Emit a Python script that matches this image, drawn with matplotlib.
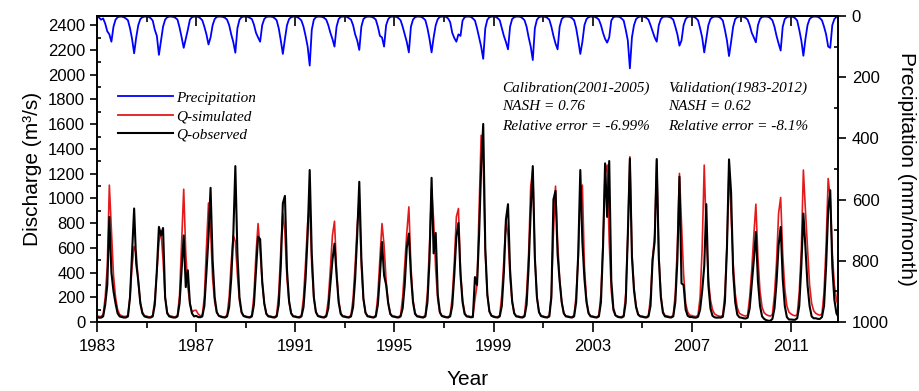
import matplotlib
matplotlib.use('Agg')
import matplotlib.pyplot as plt
import numpy as np
from matplotlib.lines import Line2D
from matplotlib.font_manager import FontProperties

# monthly values, one row per year (Jan..Dec), 1983-2012
years = list(range(1983, 2013))

q_obs = [
    [40, 35, 35, 45, 140, 300, 850, 400, 250, 150, 70, 45],      # 1983
    [40, 36, 36, 45, 200, 555, 918, 473, 336, 150, 70, 45],      # 1984
    [40, 36, 36, 45, 140, 418, 769, 700, 760, 200, 70, 45],      # 1985
    [40, 36, 36, 45, 150, 420, 700, 282, 418, 150, 70, 45],      # 1986
    [50, 40, 38, 45, 130, 400, 688, 1085, 500, 200, 80, 50],     # 1987
    [42, 38, 36, 45, 120, 350, 700, 1261, 550, 200, 80, 48],     # 1988
    [42, 38, 36, 45, 140, 420, 690, 670, 330, 150, 65, 45],      # 1989
    [42, 38, 36, 45, 140, 450, 960, 1020, 420, 170, 70, 45],     # 1990
    [42, 38, 36, 45, 120, 350, 700, 1229, 550, 200, 80, 48],     # 1991
    [42, 38, 36, 45, 110, 300, 500, 634, 380, 160, 65, 45],      # 1992
    [42, 38, 36, 45, 120, 350, 700, 1134, 520, 190, 75, 46],     # 1993
    [42, 38, 36, 45, 140, 380, 647, 377, 300, 150, 65, 45],      # 1994
    [42, 38, 36, 45, 110, 300, 600, 715, 380, 160, 65, 45],      # 1995
    [42, 38, 36, 45, 160, 500, 1166, 555, 720, 220, 80, 48],     # 1996
    [42, 38, 36, 45, 130, 380, 688, 801, 380, 160, 65, 45],      # 1997
    [42, 38, 40, 363, 300, 700, 1250, 1602, 600, 220, 85, 50],   # 1998
    [42, 38, 36, 45, 130, 400, 830, 953, 420, 170, 70, 45],      # 1999
    [42, 38, 36, 45, 140, 450, 900, 1261, 520, 200, 80, 48],     # 2000
    [42, 38, 36, 45, 200, 991, 1061, 550, 330, 160, 70, 45],     # 2001
    [42, 38, 36, 45, 160, 550, 1229, 650, 350, 160, 70, 45],     # 2002
    [42, 38, 36, 45, 160, 600, 1283, 850, 1302, 336, 110, 55],   # 2003
    [42, 38, 36, 45, 160, 700, 1323, 525, 255, 120, 60, 45],     # 2004
    [42, 38, 36, 45, 130, 500, 650, 1318, 520, 200, 75, 45],     # 2005
    [42, 38, 36, 45, 160, 500, 1175, 312, 300, 100, 50, 40],     # 2006
    [40, 36, 35, 42, 100, 250, 450, 953, 300, 110, 50, 38],      # 2007
    [35, 36, 35, 42, 160, 600, 1315, 1048, 400, 160, 60, 38],    # 2008
    [35, 30, 28, 35, 110, 300, 500, 728, 330, 130, 45, 25],      # 2009
    [15, 10, 10, 25, 110, 320, 620, 769, 350, 130, 40, 20],      # 2010
    [20, 18, 18, 30, 130, 450, 877, 600, 300, 130, 45, 30],      # 2011
    [30, 25, 25, 40, 130, 450, 900, 1066, 450, 180, 70, 40],     # 2012
]

q_sim = [
    [50, 45, 45, 60, 200, 450, 1107, 750, 380, 200, 100, 60],
    [50, 45, 45, 55, 200, 450, 610, 560, 320, 160, 80, 50],
    [48, 42, 42, 55, 180, 400, 650, 740, 500, 200, 80, 50],
    [48, 42, 42, 55, 220, 650, 1074, 555, 282, 150, 80, 93],
    [95, 65, 50, 55, 200, 600, 963, 750, 350, 160, 75, 50],
    [48, 42, 42, 55, 200, 480, 700, 650, 380, 170, 75, 50],
    [48, 42, 42, 55, 220, 550, 796, 580, 320, 150, 70, 48],
    [48, 42, 42, 55, 230, 580, 877, 720, 350, 160, 72, 48],
    [48, 42, 42, 55, 200, 480, 800, 945, 450, 190, 80, 50],
    [48, 42, 42, 55, 180, 430, 700, 815, 420, 180, 75, 48],
    [48, 42, 42, 55, 190, 460, 780, 1000, 450, 180, 75, 48],
    [48, 42, 42, 55, 220, 520, 796, 620, 330, 160, 70, 48],
    [48, 42, 42, 55, 200, 460, 720, 931, 450, 180, 75, 48],
    [48, 42, 42, 55, 240, 620, 1080, 820, 420, 180, 75, 48],
    [48, 42, 42, 55, 200, 480, 850, 918, 420, 180, 75, 48],
    [48, 42, 50, 180, 300, 900, 1510, 1300, 550, 220, 85, 52],
    [48, 42, 42, 55, 220, 500, 818, 700, 360, 160, 72, 48],
    [48, 42, 42, 55, 230, 560, 1100, 1229, 520, 200, 80, 50],
    [48, 42, 42, 55, 230, 720, 1099, 650, 350, 160, 72, 48],
    [48, 42, 42, 55, 220, 520, 1050, 1107, 450, 180, 75, 48],
    [48, 42, 42, 55, 230, 650, 1200, 1270, 650, 250, 90, 52],
    [48, 42, 42, 55, 230, 700, 1337, 560, 280, 130, 65, 48],
    [48, 42, 42, 55, 200, 520, 700, 1310, 550, 220, 85, 52],
    [50, 44, 42, 55, 230, 620, 1202, 800, 390, 150, 80, 55],
    [52, 46, 44, 55, 200, 600, 1269, 700, 350, 180, 100, 65],
    [55, 48, 45, 55, 230, 620, 1240, 850, 480, 230, 115, 70],
    [60, 52, 48, 55, 200, 420, 700, 953, 520, 250, 120, 75],
    [60, 52, 48, 60, 220, 480, 880, 1007, 550, 270, 130, 80],
    [65, 55, 50, 60, 240, 580, 1229, 900, 600, 300, 150, 90],
    [70, 60, 55, 65, 240, 620, 1161, 1000, 560, 300, 180, 120],
]

precip = [
    [3, 5, 12, 8, 25, 50, 60, 84, 35, 12, 4, 2],
    [2, 4, 8, 14, 40, 75, 122, 70, 30, 10, 4, 2],
    [2, 3, 7, 15, 45, 65, 127, 80, 35, 12, 4, 2],
    [2, 3, 6, 12, 38, 70, 104, 75, 45, 12, 4, 2],
    [2, 3, 7, 14, 35, 60, 93, 70, 30, 10, 3, 2],
    [2, 3, 6, 12, 30, 60, 85, 120, 40, 12, 4, 2],
    [2, 3, 6, 10, 28, 55, 70, 84, 30, 10, 3, 2],
    [2, 3, 7, 14, 40, 80, 124, 75, 30, 10, 4, 2],
    [2, 4, 8, 15, 35, 65, 100, 162, 45, 12, 4, 2],
    [2, 3, 6, 12, 30, 55, 75, 100, 35, 10, 3, 2],
    [2, 3, 7, 12, 30, 60, 80, 111, 35, 10, 4, 2],
    [2, 3, 6, 12, 35, 65, 70, 100, 30, 10, 3, 2],
    [2, 3, 7, 14, 35, 60, 85, 119, 35, 12, 4, 2],
    [2, 3, 7, 14, 40, 75, 119, 70, 30, 10, 3, 2],
    [2, 3, 8, 20, 55, 72, 84, 60, 65, 15, 4, 2],
    [2, 3, 8, 15, 40, 70, 100, 140, 40, 12, 4, 2],
    [2, 3, 7, 14, 40, 65, 85, 109, 35, 10, 4, 2],
    [2, 3, 7, 14, 35, 70, 100, 144, 40, 12, 4, 2],
    [2, 3, 6, 12, 35, 65, 90, 109, 35, 10, 3, 2],
    [2, 3, 7, 14, 40, 80, 124, 85, 30, 10, 4, 2],
    [2, 3, 6, 12, 30, 55, 75, 87, 70, 15, 4, 2],
    [2, 3, 8, 15, 45, 80, 171, 70, 30, 10, 4, 2],
    [2, 3, 6, 12, 30, 50, 70, 84, 30, 10, 3, 2],
    [2, 3, 6, 12, 35, 60, 97, 80, 30, 10, 3, 2],
    [2, 3, 7, 14, 40, 70, 119, 75, 30, 10, 4, 2],
    [2, 3, 7, 15, 45, 80, 131, 85, 35, 10, 4, 2],
    [2, 3, 6, 12, 30, 55, 70, 86, 30, 10, 3, 2],
    [2, 3, 7, 14, 35, 65, 90, 113, 35, 10, 4, 2],
    [2, 3, 7, 15, 45, 80, 130, 75, 30, 10, 4, 2],
    [2, 3, 7, 14, 35, 60, 100, 104, 30, 10, 3, 2],
]

plt.rcParams['font.family'] = ['Liberation Sans', 'DejaVu Sans']

obs = np.array(q_obs, dtype=float).ravel()
sim = np.array(q_sim, dtype=float).ravel()
pr = np.array(precip, dtype=float).ravel()
t = years[0] + np.arange(len(obs)) / 12.0

fig = plt.figure(figsize=(9.19, 3.91), dpi=100)
ax = fig.add_axes([0.1055, 0.1765, 0.8069, 0.7826])

ax.plot(t, sim, color='#e31a1c', lw=1.2)
ax.plot(t, obs, color='black', lw=1.5)
ax.set_xlim(1983, 2012 + 11 / 12)
ax.set_ylim(0, 2475)
ax.set_xticks(np.arange(1983, 2013, 4))
ax.set_xticks(np.arange(1985, 2013, 4), minor=True)
ax.set_yticks(np.arange(0, 2401, 200))
ax.set_yticks(np.arange(100, 2475, 200), minor=True)
ax.tick_params(axis='x', which='major', direction='out', length=7, width=1.2, labelsize=12, pad=5)
ax.tick_params(axis='x', which='minor', direction='out', length=4, width=1.2)
ax.tick_params(axis='y', which='major', direction='out', length=5, width=1.2, labelsize=12)
ax.tick_params(axis='y', which='minor', direction='in', length=3, width=1.2)
ax.set_xlabel('Year', fontsize=15, labelpad=12)
ax.set_ylabel('Discharge (m³/s)', fontsize=15, labelpad=4)

top = ax.secondary_xaxis('top')
top.set_xticks(np.arange(1983, 2013, 4))
top.set_xticks(np.arange(1985, 2013, 4), minor=True)
top.tick_params(axis='x', which='major', direction='in', length=7, width=1.2, labeltop=False)
top.tick_params(axis='x', which='minor', direction='in', length=4, width=1.2)
top.spines['top'].set_linewidth(1.2)

ax2 = ax.twinx()
ax2.plot(t, pr, color='#0000ff', lw=1.3)
ax2.set_ylim(1000, 0)
ax2.set_yticks(np.arange(0, 1001, 200))
ax2.set_yticks(np.arange(100, 1000, 200), minor=True)
ax2.tick_params(axis='y', which='major', direction='out', length=6, width=1.2, labelsize=12)
ax2.tick_params(axis='y', which='minor', direction='in', length=3, width=1.2)
ax2.set_ylabel('Precipitation (mm/month)', fontsize=15, rotation=270, labelpad=20)

for a in (ax, ax2):
    for s in a.spines.values():
        s.set_linewidth(1.2)

serif = FontProperties(family='Liberation Serif', style='italic', size=11)
handles = [Line2D([], [], color='#0000ff', lw=1.3),
           Line2D([], [], color='#e31a1c', lw=1.3),
           Line2D([], [], color='black', lw=1.5)]
labels = ['Precipitation', 'Q-simulated', 'Q-observed']
ax2.legend(handles, labels, loc='upper left', bbox_to_anchor=(0.028, 0.755),
           frameon=False, prop=serif, handlelength=3.6, handletextpad=0.25,
           labelspacing=0.32, borderpad=0, borderaxespad=0)

ax2.text(0.546, 0.765, 'Calibration(2001-2005)', transform=ax.transAxes, fontproperties=serif, va='center')
ax2.text(0.546, 0.703, 'NASH = 0.76', transform=ax.transAxes, fontproperties=serif, va='center')
ax2.text(0.546, 0.638, 'Relative error = -6.99%', transform=ax.transAxes, fontproperties=serif, va='center')
ax2.text(0.770, 0.765, 'Validation(1983-2012)', transform=ax.transAxes, fontproperties=serif, va='center')
ax2.text(0.770, 0.703, 'NASH = 0.62', transform=ax.transAxes, fontproperties=serif, va='center')
ax2.text(0.770, 0.638, 'Relative error = -8.1%', transform=ax.transAxes, fontproperties=serif, va='center')

fig.savefig('out.png', dpi=100)
